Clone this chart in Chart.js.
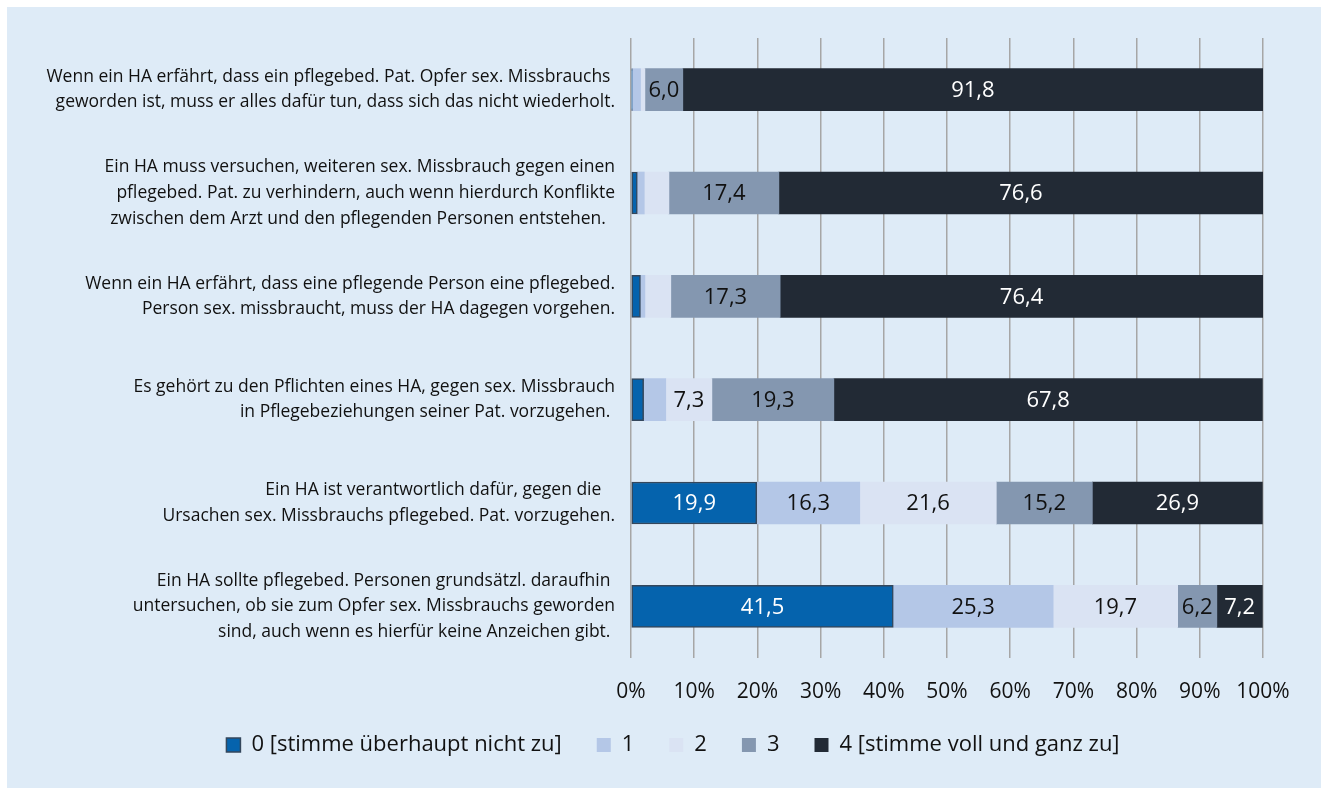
<!DOCTYPE html>
<html>
<head>
<meta charset="utf-8">
<script src="https://cdn.jsdelivr.net/npm/chart.js@4"></script>
<style>
  html, body { margin: 0; padding: 0; background: #fff; overflow: hidden; }
  #wrap { position: absolute; left: 7px; top: 7px; width: 1314px; height: 781px; background: #deebf7; }
</style>
</head>
<body>
<div id="wrap"><canvas id="chart" width="1314" height="781"></canvas></div>
<script>
// Aussagen (Zeilen), je Zeile mehrere Textzeilen
const statements = [
    ["Wenn ein HA erfährt, dass ein pflegebed. Pat. Opfer sex. Missbrauchs ", "geworden ist, muss er alles dafür tun, dass sich das nicht wiederholt."],
    ["Ein HA muss versuchen, weiteren sex. Missbrauch gegen einen", "pflegebed. Pat. zu verhindern, auch wenn hierdurch Konflikte", "zwischen dem Arzt und den pflegenden Personen entstehen.  "],
    ["Wenn ein HA erfährt, dass eine pflegende Person eine pflegebed.", "Person sex. missbraucht, muss der HA dagegen vorgehen."],
    ["Es gehört zu den Pflichten eines HA, gegen sex. Missbrauch", "in Pflegebeziehungen seiner Pat. vorzugehen. "],
    ["Ein HA ist verantwortlich dafür, gegen die   ", "Ursachen sex. Missbrauchs pflegebed. Pat. vorzugehen."],
    ["Ein HA sollte pflegebed. Personen grundsätzl. daraufhin ", "untersuchen, ob sie zum Opfer sex. Missbrauchs geworden", "sind, auch wenn es hierfür keine Anzeichen gibt. "]
];

const levels = ["0 [stimme überhaupt nicht zu]", "1", "2", "3", "4 [stimme voll und ganz zu]"];

// Anteile in Prozent je Stufe
const level0 = [0.2, 1.0, 1.5, 2.0, 19.9, 41.5];
const level1 = [1.3, 1.1, 0.7, 3.5, 16.3, 25.3];
const level2 = [0.7, 3.9, 4.1, 7.3, 21.6, 19.7];
const level3 = [6.0, 17.4, 17.3, 19.3, 15.2, 6.2];
const level4 = [91.8, 76.6, 76.4, 67.8, 26.9, 7.2];

const xTicks = [0, 10, 20, 30, 40, 50, 60, 70, 80, 90, 100];

const colors = ['#0563ad', '#b4c7e7', '#dae3f3', '#8497b0', '#222a35'];
const labelColors = ['#ffffff', '#111111', '#111111', '#111111', '#ffffff'];
const FONT = "'Open Sans', sans-serif";

// Werte in die Balken schreiben (nur ab 5 %)
const valueLabels = {
    id: 'valueLabels',
    afterDatasetsDraw(chart) {
        const ctx = chart.ctx;
        ctx.save();
        ctx.font = "22px " + FONT;
        ctx.textAlign = 'center';
        ctx.textBaseline = 'middle';
        chart.data.datasets.forEach((ds, di) => {
            const meta = chart.getDatasetMeta(di);
            meta.data.forEach((bar, i) => {
                const v = ds.data[i];
                if (v < 5) return;
                const cx = (bar.x + bar.base) / 2;
                ctx.fillStyle = labelColors[di];
                ctx.fillText(v.toFixed(1).replace('.', ','), cx, bar.y + 1);
            });
        });
        ctx.restore();
    }
};

const series = [level0, level1, level2, level3, level4];

new Chart(document.getElementById('chart'), {
    type: 'bar',
    data: {
        labels: statements,
        datasets: series.map((d, i) => ({
            label: levels[i],
            data: d,
            backgroundColor: colors[i],
            borderColor: i === 0 ? '#34475c' : colors[i],
            borderWidth: i === 0 ? 1.5 : 0,
            borderSkipped: false,
            barThickness: 42
        }))
    },
    options: {
        indexAxis: 'y',
        responsive: false,
        animation: false,
        layout: { padding: { top: 31, right: 0, bottom: 22, left: 18 } },
        plugins: {
            tooltip: { enabled: false },
            legend: {
                position: 'bottom',
                labels: {
                    font: { family: FONT, size: 22 },
                    color: '#111',
                    boxWidth: 14,
                    boxHeight: 14,
                    padding: 35
                }
            }
        },
        scales: {
            x: {
                stacked: true,
                min: 0,
                max: 100,
                afterBuildTicks: s => { s.ticks = xTicks.map(v => ({ value: v })); },
                afterFit: s => { s.height = 41; s.paddingLeft = 0; s.paddingRight = 0; },
                grid: { color: '#a6a6a6', lineWidth: 1.5, drawTicks: false },
                border: { display: false },
                ticks: {
                    padding: 21,
                    color: '#111',
                    font: { family: FONT, size: 21 },
                    callback: v => v + '%'
                }
            },
            y: {
                stacked: true,
                afterFit: s => { s.width = 606; s.paddingTop = 0; s.paddingBottom = 0; },
                grid: { display: false },
                border: { display: false },
                ticks: {
                    padding: 8,
                    color: '#111',
                    crossAlign: 'near',
                    font: { family: FONT, size: 17.5, lineHeight: 1.46 }
                }
            },
            y2: {
                position: 'right',
                afterFit: s => { s.width = 58; s.paddingTop = 0; s.paddingBottom = 0; },
                grid: { display: false },
                border: { display: false },
                ticks: { display: false }
            }
        }
    },
    plugins: [valueLabels]
});
</script>
</body>
</html>
